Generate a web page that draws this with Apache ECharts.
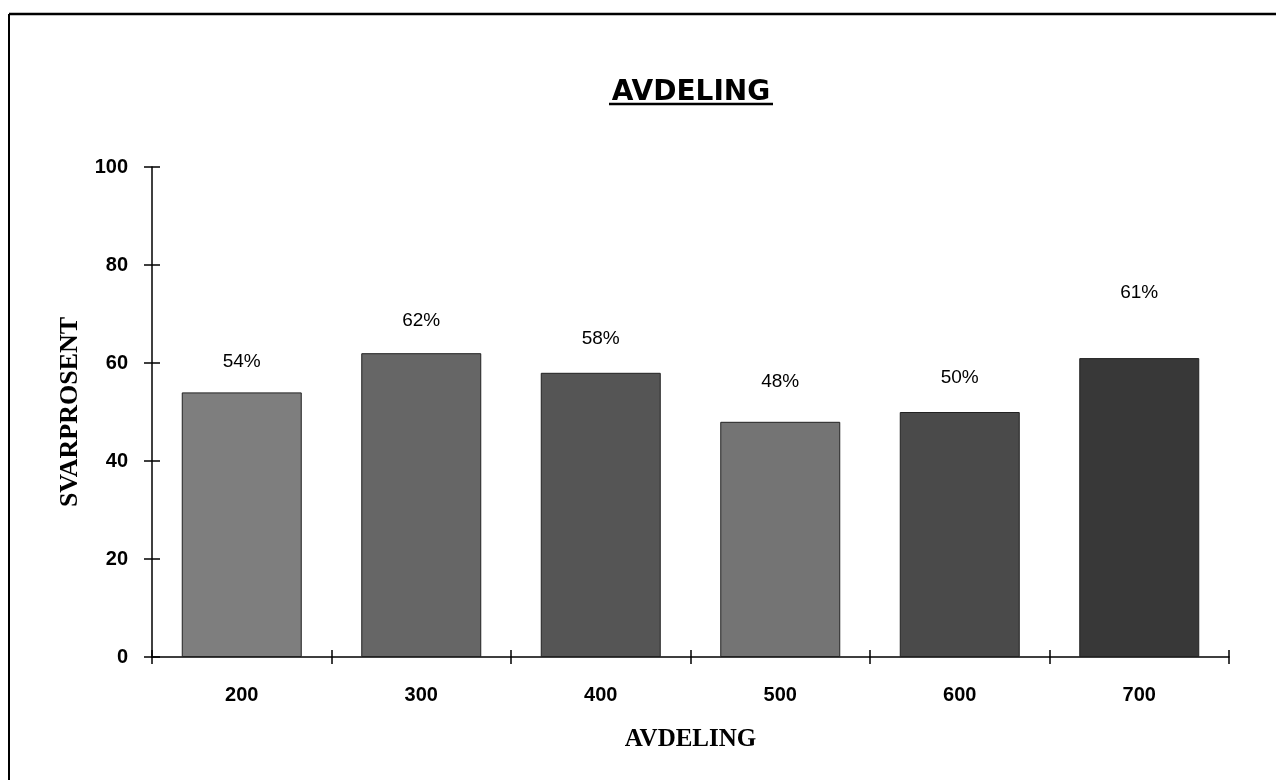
<!DOCTYPE html>
<html>
<head>
<meta charset="utf-8">
<script src="https://cdn.jsdelivr.net/npm/echarts@6/dist/echarts.min.js"></script>
<style>
  html, body { margin: 0; padding: 0; background: #fff; }
  #chart { width: 1276px; height: 780px; }
</style>
</head>
<body>
<div id="chart"></div>
<script>
// data
const categories = ['200', '300', '400', '500', '600', '700']
const values = [54, 62, 58, 48, 50, 61]
const yTicks = [0, 20, 40, 60, 80, 100]

// styling per bar (the scan uses stippled greys, averaged here)
const barColors = ['#7e7e7e', '#666666', '#555555', '#747474', '#4a4a4a', '#383838']
const labelGap = [21, 23, 25, 31, 25, 56]

const chart = echarts.init(document.getElementById('chart'))

const sans = '"Liberation Sans", Arial, sans-serif'
const serif = '"Liberation Serif", "Times New Roman", serif'

const option = {
  animation: false,
  backgroundColor: '#fff',
  grid: { left: 152, right: 47, top: 167, bottom: 123 },
  xAxis: [
    {
      type: 'category',
      data: categories,
      name: 'AVDELING',
      nameLocation: 'middle',
      nameGap: 70,
      nameTextStyle: { fontFamily: serif, fontWeight: 'bold', fontSize: 25, color: '#000' },
      axisLine: { lineStyle: { color: '#000', width: 1.5 } },
      axisTick: { show: true, length: 7, lineStyle: { color: '#000', width: 1.5 } },
      axisLabel: { margin: 28, fontFamily: sans, fontWeight: 'bold', fontSize: 20, color: '#000' }
    },
    {
      // second copy only to draw the inside half of the crossing ticks
      type: 'category',
      data: categories,
      position: 'bottom',
      axisLine: { show: false },
      axisTick: { show: true, inside: true, length: 7, lineStyle: { color: '#000', width: 1.5 } },
      axisLabel: { show: false }
    }
  ],
  yAxis: [
    {
      type: 'value',
      min: 0,
      max: 100,
      interval: 20,
      name: 'SVARPROSENT',
      nameLocation: 'middle',
      nameGap: 66,
      nameTextStyle: { fontFamily: serif, fontWeight: 'bold', fontSize: 26, color: '#000' },
      splitLine: { show: false },
      axisLine: { show: true, lineStyle: { color: '#000', width: 1.5 } },
      axisTick: { show: true, length: 8, lineStyle: { color: '#000', width: 1.5 } },
      axisLabel: {
        margin: 24,
        fontFamily: sans,
        fontWeight: 'bold',
        fontSize: 20,
        color: '#000',
        formatter: v => (yTicks.includes(v) ? String(v) : '')
      }
    },
    {
      type: 'value',
      min: 0,
      max: 100,
      interval: 20,
      position: 'left',
      splitLine: { show: false },
      axisLine: { show: false },
      axisTick: { show: true, inside: true, length: 8, lineStyle: { color: '#000', width: 1.5 } },
      axisLabel: { show: false }
    }
  ],
  series: [
    {
      type: 'bar',
      barWidth: 120,
      data: values.map((v, i) => ({
        value: v,
        itemStyle: { color: barColors[i] },
        label: { distance: labelGap[i] }
      })),
      itemStyle: { borderColor: '#222', borderWidth: 1 },
      label: {
        show: true,
        position: 'top',
        formatter: '{c}%',
        fontFamily: sans,
        fontSize: 19,
        color: '#000'
      }
    }
  ],
  graphic: [
    // frame of the scanned page
    { type: 'line', shape: { x1: 9, y1: 14, x2: 1276, y2: 14 }, style: { stroke: '#000', lineWidth: 2.5 } },
    { type: 'line', shape: { x1: 9, y1: 14, x2: 9, y2: 780 }, style: { stroke: '#000', lineWidth: 2 } },
    // underlined title
    {
      type: 'text',
      x: 691,
      y: 79,
      style: {
        text: 'AVDELING',
        align: 'center',
        verticalAlign: 'top',
        font: 'bold 28px "DejaVu Sans", sans-serif',
        fill: '#000'
      }
    },
    { type: 'line', shape: { x1: 609, y1: 104, x2: 773, y2: 104 }, style: { stroke: '#000', lineWidth: 2.5 } }
  ]
}

chart.setOption(option)
</script>
</body>
</html>
